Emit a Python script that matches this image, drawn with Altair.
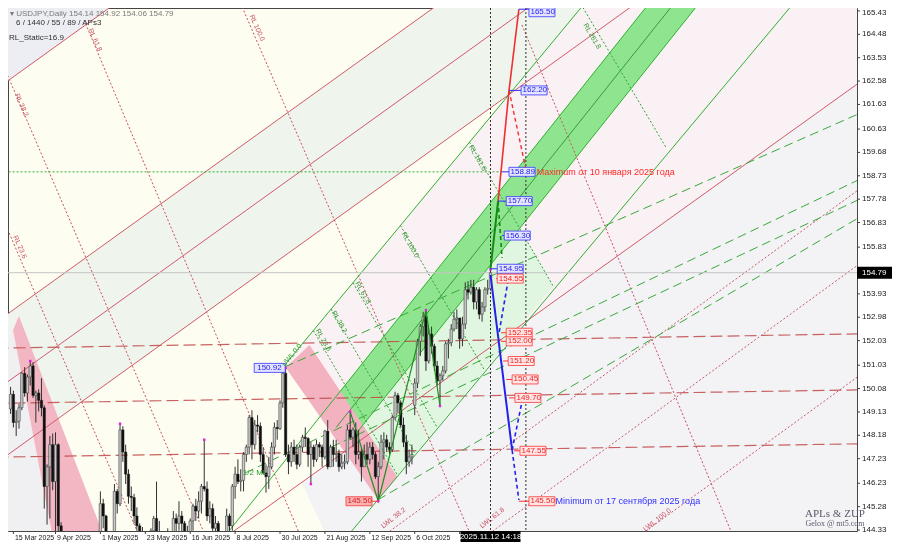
import json
import altair as alt
import pandas as pd

# ---------------- candles (bar index 0 = first labelled day) ----------------
OPEN = [149.25,149.85,148.70,148.75,149.30,150.70,149.90,150.55,151.00,149.80,
        149.90,149.60,149.30,146.10,146.90,147.80,146.30,147.80,144.50,143.50,
        143.10,143.20,141.80,142.40,142.20,140.80,141.40,143.40,142.60,143.70,
        142.00,142.30,143.10,145.40,144.90,143.70,142.50,143.80,145.90,145.40,
        148.40,147.50,146.60,145.70,145.65,144.90,144.50,143.60,144.00,142.60,
        142.80,144.30,144.80,144.20,144.00,142.70,144.00,142.80,143.50,144.80,
        144.60,144.90,144.60,143.50,144.10,144.70,145.30,145.10,145.50,146.10,
        146.00,144.90,145.20,144.40,144.60,144.00,143.40,143.70,144.90,144.50,
        146.10,146.60,146.30,146.35,147.40,147.70,148.90,147.80,148.60,148.55,
        147.40,146.65,146.50,146.90,147.70,148.50,148.45,149.50,150.70,147.40,
        147.10,147.70,147.40,147.00,147.70,148.10,148.05,147.40,147.70,147.20,
        147.80,147.70,147.30,148.35,146.90,147.70,147.40,147.45,146.90,147.05,
        147.10,148.40,148.10,148.40,147.40,147.50,146.90,147.40,147.20,147.70,
        147.40,146.50,146.90,147.90,148.00,147.70,147.60,148.90,149.80,149.50,
        148.60,147.90,147.10,147.30,149.40,150.30,152.00,152.60,153.00,151.20,
        152.30,151.80,151.00,150.40,150.60,150.80,151.90,151.95,152.50,152.90,
        152.95,152.10,152.70,154.10,154.00,154.20,153.60,154.10,153.10,153.40,
        154.10,154.14]
HIGH = [150.15,150.00,149.20,149.45,150.75,150.95,150.65,151.20,151.15,150.00,
        150.05,150.50,149.40,147.00,148.15,148.25,148.30,147.85,144.65,144.15,
        143.80,143.50,142.90,142.60,142.30,141.60,143.60,143.45,143.90,143.90,
        142.90,143.30,145.90,145.60,144.95,144.20,144.00,146.20,146.00,148.65,
        148.55,147.80,146.80,146.10,145.80,145.25,144.60,144.45,144.00,143.20,
        144.40,144.90,146.30,144.70,144.10,144.20,144.40,144.00,145.10,145.00,
        145.50,145.10,144.70,144.50,144.80,145.40,145.60,145.90,146.20,148.00,
        146.30,145.50,145.40,144.90,144.70,144.10,143.90,145.20,145.00,146.20,
        146.90,147.20,146.80,147.50,147.80,149.00,149.20,148.80,149.00,148.70,
        147.70,147.00,147.30,147.90,148.70,148.80,149.60,150.80,150.92,147.80,
        147.90,148.00,147.80,147.80,148.20,148.50,148.10,147.90,147.80,148.00,
        147.90,147.80,148.40,148.80,147.80,148.00,148.00,147.60,147.40,147.40,
        148.60,149.14,148.50,148.70,148.40,147.70,147.80,147.90,147.90,147.90,
        147.50,147.10,148.20,148.30,148.20,147.90,149.00,149.95,149.90,149.60,
        148.90,148.20,147.60,147.80,150.50,152.10,152.70,153.20,153.27,152.50,
        152.60,151.90,151.20,150.70,151.00,152.00,152.10,152.70,153.20,153.30,
        152.95,153.00,154.40,154.45,154.50,154.50,154.20,154.20,153.60,154.20,
        154.50,154.92]
LOW = [149.05,148.50,148.15,148.45,149.20,149.75,149.55,150.20,149.70,148.70,
       149.15,148.95,145.20,144.55,144.80,145.95,143.90,143.95,142.10,142.80,
       142.90,141.60,141.60,142.00,140.60,139.90,141.30,142.10,142.50,141.95,
       141.90,142.00,143.00,144.40,143.50,142.40,142.35,143.50,145.00,145.30,
       147.10,146.20,145.40,145.10,144.60,144.30,143.40,143.10,142.40,142.10,
       142.70,143.80,143.90,143.40,142.50,142.40,142.60,142.40,143.40,144.10,
       144.30,144.20,143.20,142.80,143.80,144.30,144.70,144.80,145.00,145.90,
       144.70,144.60,144.20,144.20,143.80,142.70,142.90,143.50,144.20,144.30,
       145.60,146.20,145.90,145.90,147.10,147.40,147.20,147.60,148.30,147.10,
       146.60,145.85,146.00,146.80,147.40,148.00,148.40,149.30,147.30,146.60,
       146.90,147.10,146.80,146.90,147.50,147.70,146.90,146.20,146.90,147.10,
       147.30,146.90,147.20,146.80,146.90,146.90,147.10,146.70,146.80,146.80,
       147.00,148.00,147.70,147.00,147.20,146.30,146.90,147.00,147.00,147.20,
       146.40,145.50,146.80,147.20,147.50,147.40,147.50,148.80,149.10,148.50,
       147.70,146.60,146.90,147.00,149.00,150.10,151.40,152.20,150.80,151.10,
       151.50,150.80,150.20,149.37,150.40,150.70,151.30,151.80,152.40,152.50,
       151.70,151.80,152.50,153.70,153.90,153.30,153.30,152.90,152.80,153.20,
       153.90,154.06]
CLOSE = [149.85,148.70,148.75,149.30,150.70,149.90,150.55,151.00,149.80,149.90,
         149.60,149.30,146.10,146.90,147.80,146.30,147.80,144.50,143.50,143.10,
         143.20,141.80,142.40,142.20,140.80,141.40,143.40,142.60,143.70,142.00,
         142.30,143.10,145.40,144.90,143.70,142.50,143.80,145.90,145.40,148.40,
         147.50,146.60,145.70,145.65,144.90,144.50,143.60,144.00,142.60,142.80,
         144.30,144.80,144.20,144.00,142.70,144.00,142.80,143.50,144.80,144.60,
         144.90,144.60,143.50,144.10,144.70,145.30,145.10,145.50,146.10,146.00,
         144.90,145.20,144.40,144.60,144.00,143.40,143.70,144.90,144.50,146.10,
         146.60,146.30,146.35,147.40,147.70,148.90,147.80,148.60,148.55,147.40,
         146.65,146.50,146.90,147.70,148.50,148.45,149.50,150.70,147.40,147.10,
         147.70,147.40,147.00,147.70,148.10,148.05,147.40,147.70,147.20,147.80,
         147.70,147.30,148.35,146.90,147.70,147.40,147.45,146.90,147.05,147.10,
         148.40,148.10,148.40,147.40,147.50,146.90,147.40,147.20,147.70,147.40,
         146.50,146.90,147.90,148.00,147.70,147.60,148.90,149.80,149.50,148.60,
         147.90,147.10,147.30,147.40,150.30,152.00,152.60,153.00,151.20,152.30,
         151.80,151.00,150.40,150.60,150.80,151.90,151.95,152.50,152.90,152.95,
         152.10,152.70,154.10,154.00,154.20,153.60,154.10,153.10,153.40,154.10,
         154.15,154.79]

DATE_TICKS = [1, 16, 32, 48, 64, 80, 96, 112, 128, 144]
DATE_LABELS = ["15 Mar 2025", "9 Apr 2025", "1 May 2025", "23 May 2025", "16 Jun 2025",
               "8 Jul 2025", "30 Jul 2025", "21 Aug 2025", "12 Sep 2025", "6 Oct 2025"]
HIDDEN_TICK = 160
PRICE_TICKS = [164.48, 163.53, 162.58, 161.63, 160.63, 159.68, 158.73, 157.78,
               156.83, 155.83, 153.93, 152.98, 152.03, 151.03, 150.08, 149.13, 148.18,
               147.23, 146.23, 145.28, 144.33]
TOP_TICK = 165.43
LAST_PRICE = 154.79
NOW_BAR = 171
FUTURE_BAR = 183.6

# ---------------- shaded zones (bar, price) ----------------
POLY_TOPLEFT = [(-5, 162.26), (60, 167.59), (-5, 167.59)]
POLY_CHANNEL = [(-5, 152.79), (180, 167.96), (250, 167.97), (-5, 147.06)]
POLY_LEFTGRAY = [(-5, 152.46), (0.86, 152.46), (15.4, 143.8), (-5, 143.8)]
POLY_PINK1 = [(0.86, 152.46), (2.97, 153.03), (34.2, 143.8), (15.4, 143.8)]
POLY_PINKISH = [(97.7, 151.04), (213.7, 167.0), (305, 167.0), (305, 162.73), (118.5, 147.47)]
POLY_GRAY = [(103.7, 146.26), (305, 162.73), (305, 143.0), (117, 143.0)]
POLY_PALEGREEN = [(121.3, 147.99), (130.8, 145.55), (193.3, 154.25), (181.4, 156.59)]
POLY_BAND = [(110.7, 149.01), (121.3, 147.99), (254.1, 167.0), (236.3, 167.0)]
POLY_PINK2 = [(98, 150.94), (106.5, 151.85), (137.8, 146.49), (131, 145.55)]

# ---------------- lines (bar1, price1, bar2, price2) ----------------
RED_CHANNEL = [(-5, 162.26, 60, 167.59), (-5, 152.79, 180, 167.96), (-5, 150.03, 210, 167.66),
               (-5, 147.06, 250, 167.97), (-5, 137.37, 305, 162.73)]
RED_RL = [(-5, 157.60, 46.9, 143.8), (-5, 163.86, 70.5, 143.8), (26.2, 165.06, 104.3, 143.8),
          (82.5, 165.59, 165.2, 143.8), (182.2, 164.86, 258.4, 143.8)]
RED_LWL = [(129.3, 143.8, 305, 158.40), (165.9, 143.8, 305, 155.36), (220.5, 143.8, 305, 150.82)]
RED_LEVELS = [(-5, 151.72, 305, 152.31), (-5, 149.48, 305, 150.03), (-5, 147.29, 305, 147.84)]
GREEN_SOLID = [(97.7, 151.04, 213.7, 167.0), (74.4, 143.8, 236.3, 167.0),
               (121.3, 147.99, 254.1, 167.0), (117.95, 143.8, 288.2, 167.0)]
BAND_MID = [(116.0, 148.5, 245.2, 167.0)]
GREEN_RL = [(107.9, 152.44, 137.9, 146.55), (114.2, 153.31, 144.2, 147.42),
            (122.0, 154.38, 152.0, 148.50), (138.9, 156.71, 168.8, 150.84),
            (163.5, 160.10, 193.3, 154.25), (201.0, 166.13, 233.6, 159.87)]
GREEN_FAN = [(97.7, 150.96, 305, 161.39), (83.6, 146.65, 305, 158.72),
             (114.2, 147.70, 305, 157.91), (130.8, 145.55, 305, 157.21)]
GREEN_LEVEL = [(-5, 158.89, 175.1, 158.89)]

ZIGZAG_BAR = [121, 131, 148, 153]
ZIGZAG_PRICE = [149.14, 145.50, 153.27, 149.37]
SWING_BAR = [7, 39, 69, 98, 107, 121, 131, 148, 153, 171]
SWING_PRICE = [151.20, 148.65, 148.00, 150.92, 146.20, 149.14, 145.50, 153.27, 149.37, 154.92]

PROJ_RED = [(173.7, 157.70, 177.6, 162.20), (177.6, 162.20, 181.1, 165.50)]
PROJ_RED_DASH = [(177.6, 162.20, 183.6, 159.0)]
PROJ_GREEN = [(171.0, 154.95, 173.7, 157.70)]
PROJ_GREEN_DASH = [(173.7, 157.70, 175.1, 155.40)]
PROJ_BLUE = [(171.0, 154.70, 178.7, 147.58)]
PROJ_BLUE_DASH = [(178.7, 147.58, 181.1, 145.55), (174.1, 152.38, 177.3, 154.49),
                  (178.7, 147.58, 182.2, 149.54)]

TOP_PRICE = [165.50]
TOP_POINT = [181.1]
TOP_BOX = [184.7]
UP_PRICE = [162.20, 158.89, 157.70, 156.30, 154.95]
UP_POINT = [177.6, 175.1, 173.7, 175.1, 171.0]
UP_BOX = [181.9, 177.6, 176.6, 175.9, 173.4]
DN_PRICE = [154.55, 152.35, 152.00, 151.20, 150.45, 149.70, 147.55, 145.50]
DN_POINT = [173.0, 174.8, 174.8, 175.5, 176.6, 177.6, 179.4, 181.1]
DN_BOX = [173.4, 176.6, 176.6, 177.3, 178.7, 179.7, 181.5, 184.7]
HIGH_LABEL = (86.8, 150.92)
LOW_LABEL = (119.5, 145.50)

MAX_TEXT = ("Maximum от 10 января 2025 года", 187.5, 158.89)
MIN_TEXT = ("Minimum от 17 сентября 2025 года", 194.2, 145.50)

RED_RL_LABELS = [("RL 23.6", 3.3, 155.83), ("RL 38.2", 3.9, 161.60),
                 ("RL 61.8", 30.1, 164.25), ("RL 100.0", 87.8, 164.74)]
GREEN_RL_LABELS = [("RL 23.6", 111.4, 152.05), ("RL 38.2", 117.1, 152.79),
                   ("RL 61.8", 125.5, 153.97), ("RL 100.0", 142.4, 155.92),
                   ("RL 161.8", 166.4, 159.45), ("RL 261.8", 207.2, 164.40)]
LWL_LABELS = [("LWL 38.2", 136.4, 144.82), ("LWL 61.8", 171.6, 144.82), ("LWL 100.0", 230.4, 144.74)]
UWL_LABELS = [("UWL 0.0", 100.2, 151.44)]
ML_LABELS = [("1/2 ML", 87.1, 146.65)]

# ---------------- chart helpers ----------------
W, H = 849, 523
XS = alt.Scale(domain=[0.86, 299.8], nice=False, zero=False)
YS = alt.Scale(domain=[144.29, 165.55], nice=False, zero=False)
FONT = "Liberation Sans"


def qx(f="x"):
    return alt.X(f"{f}:Q", scale=XS, axis=None)


def qy(f="y"):
    return alt.Y(f"{f}:Q", scale=YS, axis=None)


def poly_layer(verts, color, opacity=1.0, blend=None):
    rows = []
    n = len(verts)
    for x in sorted(set(v[0] for v in verts)):
        ys = []
        for k in range(n):
            (xa, ya), (xb, yb) = verts[k], verts[(k + 1) % n]
            if min(xa, xb) <= x <= max(xa, xb):
                if xa == xb:
                    ys += [ya, yb]
                else:
                    ys.append(ya + (yb - ya) * (x - xa) / (xb - xa))
        rows.append({"x": x, "lo": min(ys), "hi": max(ys)})
    kw = dict(color=color, opacity=opacity, clip=True, interpolate="linear")
    if blend:
        kw["blend"] = blend
    return alt.Chart(pd.DataFrame(rows)).mark_area(**kw).encode(
        x=qx("x"), y=qy("lo"), y2="hi:Q")


def seg_layer(segs, color, width=1.0, dash=None, opacity=1.0):
    df = pd.DataFrame(segs, columns=["x1", "y1", "x2", "y2"])
    kw = dict(color=color, strokeWidth=width, opacity=opacity, clip=True)
    if dash:
        kw["strokeDash"] = dash
    return alt.Chart(df).mark_rule(**kw).encode(
        x=qx("x1"), y=qy("y1"), x2="x2:Q", y2="y2:Q")


def text_layer(rows, color, size=8, angle=0, align="left", font=FONT, dx=0, yoff=0):
    df = pd.DataFrame(rows, columns=["t", "x", "y"])
    return alt.Chart(df).mark_text(color=color, fontSize=size, angle=angle, align=align,
                                   baseline="middle", font=font, dx=dx, yOffset=yoff).encode(
        x=qx("x"), y=qy("y"), text="t:N")


def box_path(w, h, anchor="left"):
    k = h / w
    if anchor == "left":
        return f"M0,{-k:.4f}H2V{k:.4f}H0Z"
    return f"M-1,{-k:.4f}H1V{k:.4f}H-1Z"


def box_layer(xs, ys, w, h, fill, stroke, anchor="left", yoff=0):
    df = pd.DataFrame({"x": xs, "y": ys})
    return alt.Chart(df).mark_point(shape=box_path(w, h, anchor), size=w * w, filled=True,
                                    fill=fill, stroke=stroke, strokeWidth=0.8,
                                    opacity=1, yOffset=yoff).encode(x=qx(), y=qy())


def fmt(vals):
    return [f"{v:.2f}" for v in vals]


def stub_rows(points, boxes, prices):
    return [(p, y, b, y) for p, b, y in zip(points, boxes, prices)]


layers = []
# zones
layers += [
    poly_layer(POLY_TOPLEFT, "#eceef3"),
    poly_layer(POLY_CHANNEL, "#eff5ec"),
    poly_layer(POLY_LEFTGRAY, "#f0f0f3"),
    poly_layer(POLY_PINKISH, "#f9f1f3"),
    poly_layer(POLY_GRAY, "#f3f3f6"),
    poly_layer(POLY_PALEGREEN, "#e0f6e0"),
    poly_layer(POLY_PINK1, "#f3b7c3"),
    poly_layer(POLY_BAND, "#8fe58f"),
    poly_layer(POLY_PINK2, "#f2b2bf", blend="multiply"),
]
# lines
layers += [
    seg_layer(RED_CHANNEL, "#d05a6a", 1.0),
    seg_layer(RED_RL, "#cc5060", 1.0, [2, 2]),
    seg_layer(RED_LWL, "#c85868", 1.0, [2, 2]),
    seg_layer(RED_LEVELS, "#c04848", 1.2, [12, 5], 0.85),
    seg_layer(GREEN_SOLID, "#30b030", 1.0),
    seg_layer(BAND_MID, "#1d8a1d", 0.8),
    seg_layer(GREEN_RL, "#30a030", 1.0, [2, 2]),
    seg_layer(GREEN_FAN, "#3aa83a", 1.0, [9, 5]),
    seg_layer(GREEN_LEVEL, "#30b030", 1.0, [2, 2]),
    alt.Chart(pd.DataFrame({"y": [LAST_PRICE]})).mark_rule(color="#c4c4c4", strokeWidth=1).encode(
        y=qy("y"), x=alt.value(0), x2=alt.value(W)),
    alt.Chart(pd.DataFrame({"x": [NOW_BAR, FUTURE_BAR]})).mark_rule(
        color="#303030", strokeWidth=1, strokeDash=[2, 2]).encode(
        x=qx("x"), y=alt.value(0), y2=alt.value(H)),
]
# candles
cdf = pd.DataFrame({"i": list(range(len(OPEN))), "o": OPEN, "h": HIGH, "l": LOW, "c": CLOSE})
layers.append(alt.Chart(cdf).mark_rule(color="#333333", strokeWidth=1, clip=True).encode(
    x=qx("i"), y=qy("l"), y2="h:Q"))
bull = cdf[cdf.c >= cdf.o]
bear = cdf[cdf.c < cdf.o]
layers.append(alt.Chart(bull).mark_bar(size=2.4, fill="#c8c8c8", stroke="#444444",
                                       strokeWidth=0.6, clip=True).encode(
    x=qx("i"), y=qy("o"), y2="c:Q"))
layers.append(alt.Chart(bear).mark_bar(size=2.4, fill="#111111", stroke="#111111",
                                       strokeWidth=0.4, clip=True).encode(
    x=qx("i"), y=qy("o"), y2="c:Q"))
# zigzag and swing marks
layers.append(alt.Chart(pd.DataFrame({"x": ZIGZAG_BAR, "y": ZIGZAG_PRICE, "k": range(len(ZIGZAG_BAR))}))
              .mark_line(color="#1f8f1f", strokeWidth=1.2, clip=True)
              .encode(x=qx(), y=qy(), order="k:Q"))
layers.append(alt.Chart(pd.DataFrame({"x": SWING_BAR, "y": SWING_PRICE}))
              .mark_point(shape="square", size=6, filled=True, color="#e020e0", opacity=1)
              .encode(x=qx(), y=qy()))
# projections
layers += [
    seg_layer(PROJ_RED, "#f03030", 1.6),
    seg_layer(PROJ_RED_DASH, "#f03030", 1.4, [4, 3]),
    seg_layer(PROJ_GREEN, "#138a13", 2.0),
    seg_layer(PROJ_GREEN_DASH, "#138a13", 1.6, [4, 3]),
    seg_layer(PROJ_BLUE, "#2323e6", 2.0),
    seg_layer(PROJ_BLUE_DASH, "#2323e6", 1.6, [4, 3]),
]
# label stubs, boxes, texts
layers += [
    seg_layer(stub_rows(UP_POINT, UP_BOX, UP_PRICE), "#3030ff", 1.0),
    seg_layer(stub_rows(TOP_POINT, TOP_BOX, TOP_PRICE), "#3030ff", 1.0),
    seg_layer(stub_rows(DN_POINT, DN_BOX, DN_PRICE), "#ff3030", 1.0),
    seg_layer([(LOW_LABEL[0], LOW_LABEL[1], 131, LOW_LABEL[1])], "#ff3030", 1.0),
    box_layer(UP_BOX, UP_PRICE, 26, 9, "#e4e4ff", "#3434ff"),
    box_layer(TOP_BOX, TOP_PRICE, 26, 9, "#e4e4ff", "#3434ff", yoff=3),
    box_layer(DN_BOX, DN_PRICE, 26, 9, "#ffe6e6", "#ff3434"),
    box_layer([HIGH_LABEL[0]], [HIGH_LABEL[1]], 31, 9, "#e4e4ff", "#3434ff"),
    box_layer([LOW_LABEL[0]], [LOW_LABEL[1]], 26, 9, "#f6b4b4", "#ff3434"),
    text_layer(list(zip(fmt(UP_PRICE), UP_BOX, UP_PRICE)), "#2020ee", 8, dx=1.5),
    text_layer(list(zip(fmt(TOP_PRICE), TOP_BOX, TOP_PRICE)), "#2020ee", 8, dx=1.5, yoff=3),
    text_layer(list(zip(fmt(DN_PRICE), DN_BOX, DN_PRICE)), "#ee2020", 8, dx=1.5),
    text_layer([(f"{HIGH_LABEL[1]:.2f}", HIGH_LABEL[0], HIGH_LABEL[1])], "#2020ee", 8, dx=3),
    text_layer([(f"{LOW_LABEL[1]:.2f}", LOW_LABEL[0], LOW_LABEL[1])], "#e01818", 8, dx=1.5),
    text_layer([MAX_TEXT], "#ff2a2a", 9),
    text_layer([MIN_TEXT], "#3030ff", 9),
]
# fibo captions
layers += [
    text_layer(RED_RL_LABELS, "#c85060", 7, angle=66, align="center"),
    text_layer(GREEN_RL_LABELS, "#2f9a2f", 7, angle=60, align="center"),
    text_layer(LWL_LABELS, "#c85060", 7, angle=322, align="center"),
    text_layer(UWL_LABELS, "#2f9a2f", 7, angle=310, align="center"),
    text_layer(ML_LABELS, "#2f9a2f", 8, align="center"),
]
# axes drawn as marks (price scale on the right, dates below)
ptk = pd.DataFrame({"y": PRICE_TICKS + [TOP_TICK], "t": fmt(PRICE_TICKS + [TOP_TICK])})
ptk_main = pd.DataFrame({"y": PRICE_TICKS, "t": fmt(PRICE_TICKS)})
ptk_top = pd.DataFrame({"y": [TOP_TICK], "t": fmt([TOP_TICK])})
dtk = pd.DataFrame({"x": DATE_TICKS, "t": DATE_LABELS})
layers += [
    alt.Chart(ptk).mark_rule(color="#404040", strokeWidth=1).encode(
        y=qy("y"), x=alt.value(W), x2=alt.value(W + 3)),
    alt.Chart(ptk_main).mark_text(font=FONT, fontSize=8, color="#202020", align="left",
                                  baseline="middle").encode(y=qy("y"), x=alt.value(W + 5), text="t:N"),
    alt.Chart(ptk_top).mark_text(font=FONT, fontSize=8, color="#202020", align="left",
                                 baseline="top").encode(y=alt.value(1), x=alt.value(W + 5), text="t:N"),
    alt.Chart(pd.DataFrame({"x": DATE_TICKS + [HIDDEN_TICK]})).mark_rule(
        color="#404040", strokeWidth=1).encode(x=qx("x"), y=alt.value(H), y2=alt.value(H + 3)),
    alt.Chart(dtk).mark_text(font=FONT, fontSize=7, color="#202020", align="left",
                             baseline="top", dx=1.5).encode(x=qx("x"), y=alt.value(H + 3), text="t:N"),
]
# header, watermark, price and time boxes
one = pd.DataFrame({"a": [0]})
layers += [
    alt.Chart(one).mark_text(text="▾ USDJPY,Daily  154.14 154.92 154.06 154.79", font=FONT,
                             fontSize=8, color="#7a7a7a", align="left", baseline="middle")
    .encode(x=alt.value(2), y=alt.value(6)),
    alt.Chart(one).mark_text(text="6 / 1440 / 55 / 89 / APs3", font=FONT, fontSize=8,
                             color="#303030", align="left", baseline="middle")
    .encode(x=alt.value(8), y=alt.value(15)),
    alt.Chart(one).mark_text(text="RL_Static=16.9", font=FONT, fontSize=8, color="#303030",
                             align="left", baseline="middle")
    .encode(x=alt.value(1), y=alt.value(30)),
    alt.Chart(one).mark_text(text="APLs & ZUP", font="Liberation Serif", fontSize=11,
                             color="#5a5a6a", align="center", baseline="middle")
    .encode(x=alt.value(827), y=alt.value(506)),
    alt.Chart(one).mark_text(text="Gelox @ mt5.com", font="Liberation Serif", fontSize=8,
                             color="#5a5a6a", align="center", baseline="middle")
    .encode(x=alt.value(827), y=alt.value(516)),
    alt.Chart(pd.DataFrame({"y": [LAST_PRICE]})).mark_point(
        shape=box_path(35, 10), size=35 * 35, filled=True, fill="#000000", stroke="#000000",
        opacity=1).encode(x=alt.value(W + 1), y=qy("y")),
    alt.Chart(pd.DataFrame({"y": [LAST_PRICE], "t": [f"{LAST_PRICE:.2f}"]})).mark_text(
        font=FONT, fontSize=8, color="#ffffff", align="left", baseline="middle").encode(
        x=alt.value(W + 5), y=qy("y"), text="t:N"),
    alt.Chart(pd.DataFrame({"x": [NOW_BAR]})).mark_point(
        shape=box_path(58, 10, "center"), size=58 * 58, filled=True, fill="#000000",
        stroke="#000000", opacity=1).encode(x=qx("x"), y=alt.value(H + 6)),
    alt.Chart(pd.DataFrame({"x": [NOW_BAR], "t": ["2025.11.12 14:18"]})).mark_text(
        font=FONT, fontSize=8, color="#ffffff", align="center", baseline="middle").encode(
        x=qx("x"), y=alt.value(H + 6), text="t:N"),
]

chart = alt.layer(*layers).properties(
    width=W, height=H,
    autosize=alt.AutoSizeParams(type="none"),
    padding={"left": 0, "top": 0, "right": 35, "bottom": 11},
    background="#ffffff",
).configure_view(fill="#fdfdf1", stroke="#454545", strokeWidth=1)

chart.save("out.html", embed_options={"renderer": "svg", "actions": False})
